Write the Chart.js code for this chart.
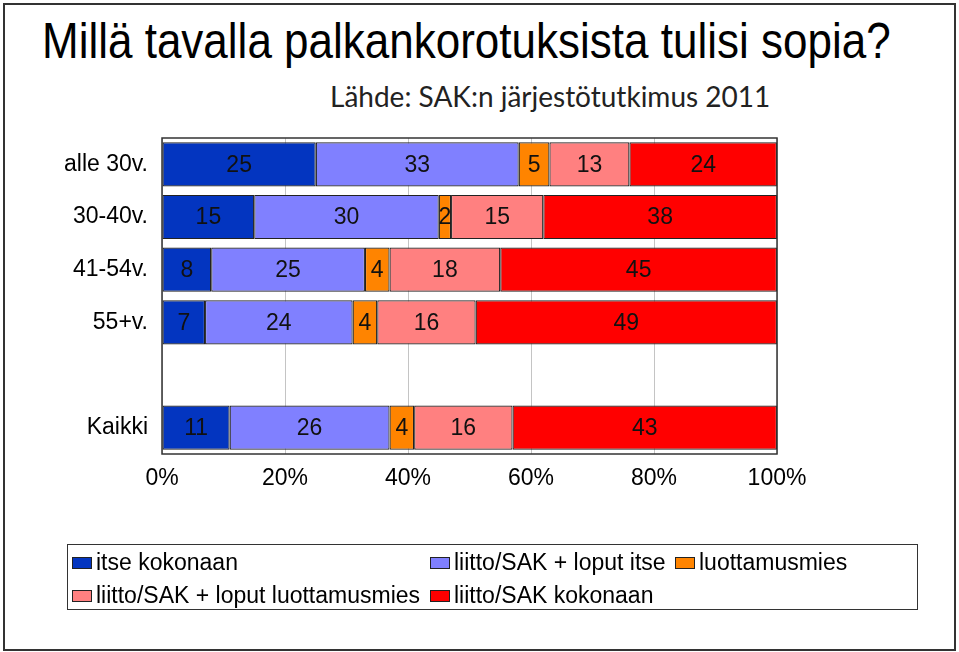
<!DOCTYPE html>
<html>
<head>
<meta charset="utf-8">
<script src="https://cdn.jsdelivr.net/npm/chart.js@4.4.1/dist/chart.umd.min.js"></script>
<style>
    body { margin: 0; background: #fff; }
    #wrap { position: relative; width: 959px; height: 652px; overflow: hidden; font-family: "Liberation Sans", Arial, sans-serif; }
    #frame { position: absolute; left: 3px; top: 3px; width: 949px; height: 644px; border: 2px solid #333; }
    #otsikko { position: absolute; left: 42px; top: 16px; font-size: 50px; line-height: 50px; white-space: nowrap; transform: scaleX(0.88); transform-origin: left top; color: #000; }
    #lahde { position: absolute; left: 330px; top: 82px; font-family: Lato, "Open Sans", sans-serif; font-size: 28px; line-height: 28px; white-space: nowrap; color: #222; }
    #kaavio { position: absolute; left: 0; top: 0; }
    #selite { position: absolute; left: 67px; top: 544px; width: 851px; height: 66px; border: 1.5px solid #333; display: grid; grid-template-columns: 358px 245px auto; grid-auto-rows: 33px; padding: 1px 0 0 4px; box-sizing: border-box; }
    .item { display: flex; align-items: center; font-size: 23px; white-space: nowrap; }
    .box { width: 18px; height: 10px; border: 1px solid #222; margin-right: 4px; }
</style>
</head>
<body>
<div id="wrap">
    <div id="frame"></div>
    <div id="otsikko">Millä tavalla palkankorotuksista tulisi sopia?</div>
    <div id="lahde">Lähde: SAK:n järjestötutkimus 2011</div>
    <canvas id="kaavio" width="959" height="652"></canvas>
    <div id="selite"></div>
</div>
<script>
// ryhmät ja vastausten osuudet (%)
var ryhmat = ['alle 30v.', '30-40v.', '41-54v.', '55+v.', '', 'Kaikki'];
var itseKokonaan = [25, 15, 8, 7, null, 11];
var liittoLoputItse = [33, 30, 25, 24, null, 26];
var luottamusmies = [5, 2, 4, 4, null, 4];
var liittoLoputLuottamusmies = [13, 15, 18, 16, null, 16];
var liittoKokonaan = [24, 38, 45, 49, null, 43];
var sarjaNimet = ['itse kokonaan', 'liitto/SAK + loput itse', 'luottamusmies', 'liitto/SAK + loput luottamusmies', 'liitto/SAK kokonaan'];
var varit = ['#0335c0', '#8080ff', '#ff8400', '#ff8080', '#ff0000'];

Chart.defaults.font.family = '"Liberation Sans", Arial, sans-serif';
Chart.defaults.font.size = 23;
Chart.defaults.color = '#000';

// numerot palkkien keskelle
var palkkiArvot = {
    id: 'palkkiArvot',
    afterDatasetsDraw: function (chart) {
        var ctx = chart.ctx;
        ctx.save();
        ctx.font = '23px "Liberation Sans", Arial, sans-serif';
        ctx.fillStyle = '#111';
        ctx.textAlign = 'center';
        ctx.textBaseline = 'middle';
        chart.data.datasets.forEach(function (ds, i) {
            chart.getDatasetMeta(i).data.forEach(function (bar, j) {
                var v = ds.data[j];
                if (v == null) return;
                var p = bar.getProps(['x', 'y', 'base'], true);
                ctx.fillText(v, (p.x + p.base) / 2, p.y + 1);
            });
        });
        ctx.restore();
    }
};

// kuva-alueen kehys
var kehys = {
    id: 'kehys',
    afterDatasetsDraw: function (chart) {
        var a = chart.chartArea;
        var ctx = chart.ctx;
        ctx.save();
        ctx.strokeStyle = '#333';
        ctx.lineWidth = 1.5;
        ctx.strokeRect(a.left, a.top, a.right - a.left, a.bottom - a.top);
        ctx.restore();
    }
};

var sarjat = [itseKokonaan, liittoLoputItse, luottamusmies, liittoLoputLuottamusmies, liittoKokonaan];

var ctx = document.getElementById('kaavio');
var kaavio = new Chart(ctx, {
    type: 'bar',
    data: {
        labels: ryhmat,
        datasets: sarjat.map(function (d, i) {
            return {
                label: sarjaNimet[i],
                data: d,
                backgroundColor: varit[i],
                borderColor: '#222',
                borderWidth: 1.2,
                borderSkipped: false,
                barPercentage: 0.84,
                categoryPercentage: 1
            };
        })
    },
    options: {
        indexAxis: 'y',
        responsive: false,
        animation: false,
        layout: { padding: { left: 3, top: 138, right: 182, bottom: 158 } },
        plugins: {
            legend: { display: false },
            title: { display: false },
            tooltip: { enabled: false }
        },
        scales: {
            x: {
                stacked: true,
                min: 0,
                max: 100,
                ticks: {
                    stepSize: 20,
                    padding: 11,
                    callback: function (v) { return v + '%'; }
                },
                grid: { color: '#c4c4c4', lineWidth: 1, drawTicks: false },
                border: { display: false },
                afterFit: function (s) { s.height = 40; }
            },
            y: {
                stacked: true,
                ticks: { padding: 14, autoSkip: false },
                grid: { display: false, drawTicks: false },
                border: { display: false },
                afterFit: function (s) { s.width = 159; }
            }
        }
    },
    plugins: [palkkiArvot, kehys]
});

// selite samaan järjestykseen kuin alkuperäisessä
var selite = document.getElementById('selite');
kaavio.data.datasets.forEach(function (ds) {
    var el = document.createElement('div');
    el.className = 'item';
    el.innerHTML = '<span class="box" style="background:' + ds.backgroundColor + '"></span>' + ds.label;
    selite.appendChild(el);
});
</script>
</body>
</html>
